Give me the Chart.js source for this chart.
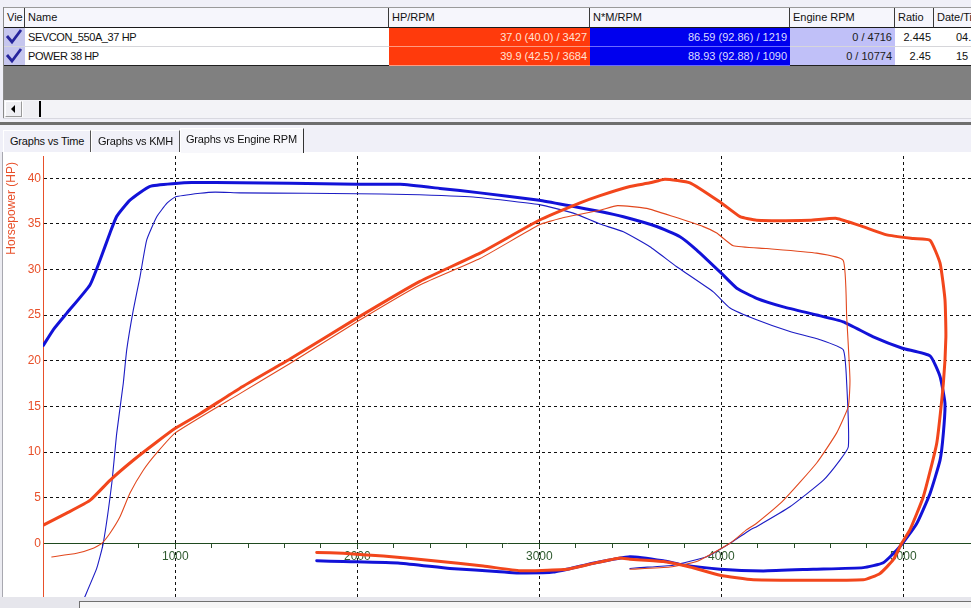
<!DOCTYPE html>
<html>
<head>
<meta charset="utf-8">
<title>Graphs vs Engine RPM</title>
<script src="https://cdn.jsdelivr.net/npm/chart.js@4.4.1/dist/chart.umd.min.js"></script>
<style>
  body { margin: 0; width: 971px; height: 608px; overflow: hidden; position: relative;
         background: #f0f0f8; font: 11px "Liberation Sans", Arial, sans-serif; color: #111; }
  .abs { position: absolute; box-sizing: border-box; }
  .cell { position: absolute; box-sizing: border-box; padding: 0 3px; white-space: nowrap; overflow: hidden; }
  .hd { top: 8px; height: 20px; line-height: 19px; background: #f6f6fc; border-right: 1px solid #3a3a3a; border-bottom: 1px solid #1a1a1a; }
  .r1 { top: 28px; height: 19px; line-height: 18px; border-bottom: 1px solid #d6d6da; }
  .r2 { top: 47px; height: 19px; line-height: 18px; border-bottom: 1px solid #202020; }
  .num { text-align: right; }
  .name { letter-spacing: -0.4px; background: #fff; }
  .vie { background: #c6c6ee; padding: 0; }
  .hp  { background: #ff3a0c; color: #ffe2d4; border-bottom-color: #ff9a80; }
  .nm  { background: #0000ee; color: #dcdcff; border-bottom-color: #6a6aff; }
  .eng { background: #c0c0f8; color: #202020; }
  .wh  { background: #fff; }
  .tab { position: absolute; box-sizing: border-box; padding-left: 6px; letter-spacing: -0.2px;
         border-left: 1px solid #fff; border-top: 1px solid #fff; border-right: 1px solid #555; }
</style>
</head>
<body>

<!-- run list -->
<div class="abs" style="left:3px;top:7px;width:968px;height:1px;background:#9a9a9a"></div>
<div class="abs" style="left:3px;top:7px;width:1px;height:112px;background:#8a8a8a"></div>

<div class="cell hd" style="left:4px;width:21px">Vie</div>
<div class="cell hd" style="left:25px;width:364px">Name</div>
<div class="cell hd" style="left:389px;width:201px">HP/RPM</div>
<div class="cell hd" style="left:590px;width:200px">N*M/RPM</div>
<div class="cell hd" style="left:790px;width:105px">Engine RPM</div>
<div class="cell hd" style="left:895px;width:39px">Ratio</div>
<div class="cell hd" style="left:934px;width:120px">Date/Time</div>

<div class="cell r1 vie" style="left:4px;width:21px"><svg width="21" height="18" viewBox="0 0 21 18"><path d="M3 8 L8 14 L17 2" fill="none" stroke="#26249c" stroke-width="2.8"/></svg></div>
<div class="cell r1 name" style="left:25px;width:364px">SEVCON_550A_37 HP</div>
<div class="cell r1 hp num" style="left:389px;width:201px">37.0 (40.0) / 3427</div>
<div class="cell r1 nm num" style="left:590px;width:200px">86.59 (92.86) / 1219</div>
<div class="cell r1 eng num" style="left:790px;width:105px">0 / 4716</div>
<div class="cell r1 wh num" style="left:895px;width:39px">2.445</div>
<div class="cell r1 wh" style="left:934px;width:120px;padding-left:22px">04.</div>

<div class="cell r2 vie" style="left:4px;width:21px"><svg width="21" height="18" viewBox="0 0 21 18"><path d="M3 8 L8 14 L17 2" fill="none" stroke="#26249c" stroke-width="2.8"/></svg></div>
<div class="cell r2 name" style="left:25px;width:364px">POWER 38 HP</div>
<div class="cell r2 hp num" style="left:389px;width:201px">39.9 (42.5) / 3684</div>
<div class="cell r2 nm num" style="left:590px;width:200px">88.93 (92.88) / 1090</div>
<div class="cell r2 eng num" style="left:790px;width:105px">0 / 10774</div>
<div class="cell r2 wh num" style="left:895px;width:39px">2.45</div>
<div class="cell r2 wh" style="left:934px;width:120px;padding-left:22px">15</div>

<div class="abs" style="left:4px;top:66px;width:967px;height:34px;background:#808080"></div>

<!-- horizontal scroll bar -->
<div class="abs" style="left:4px;top:100px;width:967px;height:18px;background:#f3f3f7"></div>
<div class="abs" style="left:5px;top:101px;width:17px;height:16px;background:#efeff3;border:1px solid;border-color:#fff #9a9a9a #9a9a9a #fff"></div>
<div class="abs" style="left:11px;top:105px;width:0;height:0;border-top:4px solid transparent;border-bottom:4px solid transparent;border-right:4px solid #000"></div>
<div class="abs" style="left:22px;top:101px;width:19px;height:16px;background:#efeff3;border-left:1px solid #fff;border-right:2px solid #000"></div>
<div class="abs" style="left:3px;top:118px;width:968px;height:1px;background:#d8d8e0"></div>
<div class="abs" style="left:0;top:122px;width:971px;height:3px;background:#6e6e6e"></div>

<!-- chart panel -->
<div class="abs" style="left:0;top:152px;width:971px;height:446px;background:#fff;border-top:1px solid #fff"></div>
<div class="abs" style="left:0;top:152px;width:3px;height:446px;background:#ececf2;border-right:1px solid #a8a8b0"></div>
<div class="abs" style="left:3px;top:152px;width:968px;height:445px">
  <canvas id="dyno" width="968" height="445"></canvas>
</div>
<div class="abs" style="left:0;top:597px;width:971px;height:11px;background:#e6e6ec"></div>
<div class="abs" style="left:79px;top:601px;width:892px;height:7px;background:#f6f6f6;border-left:1px solid #707070;border-top:1px solid #707070"></div>

<!-- tabs -->
<div class="tab" style="left:3px;top:130px;width:88px;height:22px;line-height:21px">Graphs vs Time</div>
<div class="tab" style="left:91px;top:130px;width:89px;height:22px;line-height:21px">Graphs vs KMH</div>
<div class="tab" style="left:180px;top:128px;width:124px;height:25px;line-height:21px;background:#f7f7fb;border-right-color:#333;padding-left:5px">Graphs vs Engine RPM</div>

<script>
// axis ticks
const hpTicks   = [0, 5, 10, 15, 20, 25, 30, 35, 40];
const rpmLabels = [1000, 2000, 3000, 4000, 5000];
const rpmStep   = 200;

// POWER 38 HP - horsepower vs engine rpm (run up, then coast down)
const powerRpm = [275, 403, 531, 641, 769, 898, 1000, 1136, 1355, 1630, 2000, 2344, 2674, 3000, 3224, 3334, 3498, 3608, 3690, 3828,
                  4000, 4103, 4194, 4487, 4634, 4778, 4909, 5055, 5147, 5202, 5229, 5234, 5220, 5184, 5110, 5037, 4991, 4945, 4872, 4780,
                  4176, 3993, 3828, 3681, 3498, 3443, 3297, 3151, 2976, 2894, 2692, 2418, 2143, 1923, 1777];
const powerHp  = [2.0, 3.3, 4.7, 6.9, 9.1, 11.1, 12.6, 14.2, 17.0, 20.2, 24.7, 28.7, 31.8, 35.4, 37.3, 38.1, 39.1, 39.5, 39.9, 39.5,
                  37.3, 35.8, 35.4, 35.4, 35.6, 34.7, 33.8, 33.4, 33.2, 30.7, 26.7, 22.6, 17.5, 11.0, 5.1, 1.5, 0, -1.8, -3.3, -4.0,
                  -4.0, -3.5, -2.6, -2.0, -1.75, -1.6, -2.2, -2.85, -3.0, -3.0, -2.5, -1.9, -1.4, -1.1, -1.0];

// SEVCON_550A_37 HP - horsepower
const sevconRpm = [321, 458, 549, 596, 641, 696, 751, 824, 898, 1000, 1355, 1630, 2000, 2344, 2674, 3000, 3114, 3334, 3430, 3590,
                   3736, 3901, 3975, 4066, 4249, 4524, 4670, 4689, 4707, 4698, 4634, 4524, 4341, 4194, 4140, 4048, 3865, 3718, 3498];
const sevconHp  = [-1.5, -1.1, -0.55, 0, 1.1, 2.9, 5.5, 8.0, 9.9, 12.1, 16.4, 19.7, 24.3, 28.3, 31.2, 34.9, 35.6, 36.5, 37.0, 36.7,
                   35.8, 34.7, 34.0, 32.6, 32.3, 31.8, 31.0, 24.8, 17.9, 15.0, 12.1, 8.8, 4.7, 2.2, 1.5, 0, -2.0, -2.6, -2.85];

// POWER 38 HP - torque N*M
const powerTqRpm = [275, 330, 403, 531, 586, 641, 678, 751, 861, 1000, 1090, 1355, 1630, 2000, 2235, 2454, 2674, 3000, 3169, 3334,
                    3462, 3645, 3773, 3865, 4000, 4085, 4194, 4341, 4524, 4670, 4835, 4995, 5147, 5202, 5229, 5220, 5202, 5147, 5074, 4982,
                    4890, 4780, 4505, 4231, 3993, 3773, 3681, 3498, 3295, 3077, 2876, 2784, 2509, 2235, 1923, 1777];
const powerNm    = [48.8, 52.7, 56.7, 63.7, 69.8, 76.5, 80.6, 84.6, 88.0, 88.7, 88.93, 88.9, 88.8, 88.5, 88.5, 87.5, 86.4, 84.6, 83.2, 81.8,
                    80.5, 78.1, 75.6, 72.3, 66.6, 62.9, 60.4, 58.3, 56.3, 54.6, 50.9, 48.1, 46.2, 41.1, 34.5, 27.1, 20.5, 12.3, 4.9, -0.8,
                    -4.8, -6.0, -6.4, -6.8, -6.4, -5.2, -4.3, -3.3, -4.9, -7.1, -7.3, -7.0, -6.2, -4.9, -4.5, -4.3];

// SEVCON_550A_37 HP - torque N*M
const sevconTqRpm = [495, 568, 604, 651, 678, 714, 733, 769, 806, 843, 898, 953, 1000, 1136, 1219, 1355, 1722, 2000, 2271, 2637,
                     3000, 3187, 3334, 3462, 3608, 3755, 3956, 4048, 4194, 4377, 4542, 4670, 4689, 4698, 4652, 4560, 4377, 4194, 4158, 4048,
                     3920, 3736, 3553, 3498];
const sevconNm    = [-14.0, -6.2, 0, 14.8, 27.1, 39.4, 47.7, 57.5, 65.7, 74.8, 80.5, 83.8, 85.4, 86.3, 86.59, 86.4, 86.3, 86.2, 86.0, 85.4,
                     83.5, 81.4, 78.7, 76.8, 73.1, 68.2, 62.0, 58.0, 55.1, 52.2, 50.2, 47.7, 39.4, 23.8, 20.5, 15.5, 9.0, 4.1, 3.3, 0,
                     -3.3, -5.4, -6.0, -6.2];

// visible window of the graph
const RPM_MIN = 273, RPM_MAX = 5372;
const HP_MIN = -5.885, HP_MAX = 42.44;
const NM_PER_HP_DIV = 2.25;   // torque trace shares the HP grid

const pts = (xs, ys) => xs.map((x, i) => ({ x: x, y: ys[i] }));
const RED = '#e8502a';
const FONT = '"Liberation Sans", Arial, sans-serif';

const noPad = s => { s.paddingTop = 0; s.paddingBottom = 0; s.paddingLeft = 0; s.paddingRight = 0; };

// axis title sits at the top end of the HP axis, a little below the plot edge
const hpTitle = {
  id: 'hpTitle',
  afterDraw(chart) {
    const { ctx, chartArea } = chart;
    ctx.save();
    ctx.translate(9, chartArea.top + 6);
    ctx.rotate(-Math.PI / 2);
    ctx.textAlign = 'right';
    ctx.textBaseline = 'middle';
    ctx.fillStyle = RED;
    ctx.font = '12px ' + FONT;
    ctx.fillText('Horsepower (HP)', 0, 0);
    ctx.restore();
  }
};

new Chart(document.getElementById('dyno'), {
  type: 'line',
  data: {
    datasets: [
      { label: 'POWER 38 HP (HP)', data: pts(powerRpm, powerHp), yAxisID: 'y', borderColor: '#f2461c', borderWidth: 3 },
      { label: 'SEVCON_550A_37 HP (HP)', data: pts(sevconRpm, sevconHp), yAxisID: 'y', borderColor: '#e2481e', borderWidth: 1.1 },
      { label: 'POWER 38 HP (N*M)', data: pts(powerTqRpm, powerNm), yAxisID: 'nm', borderColor: '#1212d8', borderWidth: 3 },
      { label: 'SEVCON_550A_37 HP (N*M)', data: pts(sevconTqRpm, sevconNm), yAxisID: 'nm', borderColor: '#1c1cc4', borderWidth: 1.1 }
    ]
  },
  options: {
    responsive: false,
    animation: false,
    devicePixelRatio: 1,
    layout: { padding: { top: 4, left: 0, right: 0, bottom: 0 } },
    elements: {
      point: { radius: 0, hoverRadius: 0 },
      line: { tension: 0.15, fill: false, borderJoinStyle: 'round', borderCapStyle: 'round' }
    },
    plugins: { legend: { display: false }, tooltip: { enabled: false } },
    scales: {
      x: {
        type: 'linear',
        min: RPM_MIN, max: RPM_MAX,
        position: { y: 0 },
        afterBuildTicks: s => { s.ticks = s.ticks.filter(t => t.value % rpmStep === 0); },
        afterFit: noPad,
        border: { display: true, color: '#1f4a1f', width: 1, dash: [3, 3] },
        grid: {
          color: c => (c.tick && rpmLabels.includes(c.tick.value)) ? '#111' : 'rgba(0,0,0,0)',
          tickColor: '#2a4d2a', tickLength: 4, drawTicks: true, lineWidth: 1
        },
        ticks: {
          stepSize: rpmStep, autoSkip: false, maxRotation: 0, minRotation: 0, padding: 2,
          color: '#2f5a2f', font: { family: FONT, size: 12 },
          callback: v => rpmLabels.includes(v) ? String(v) : ''
        }
      },
      y: {
        position: 'left',
        min: HP_MIN, max: HP_MAX,
        afterBuildTicks: s => { s.ticks = hpTicks.map(v => ({ value: v })); },
        afterFit: s => { noPad(s); s.width = 40; },
        border: { display: true, color: RED, width: 1, dash: [3, 3] },
        grid: {
          color: c => (c.tick && c.tick.value !== 0) ? '#111' : 'rgba(0,0,0,0)',
          drawTicks: false, lineWidth: 1
        },
        ticks: {
          padding: 2, color: RED,
          font: { family: FONT, size: 12 },
          callback: v => String(v)
        }
      },
      nm: {
        display: false,
        min: HP_MIN * NM_PER_HP_DIV, max: HP_MAX * NM_PER_HP_DIV
      }
    }
  },
  plugins: [hpTitle]
});
</script>
</body>
</html>
